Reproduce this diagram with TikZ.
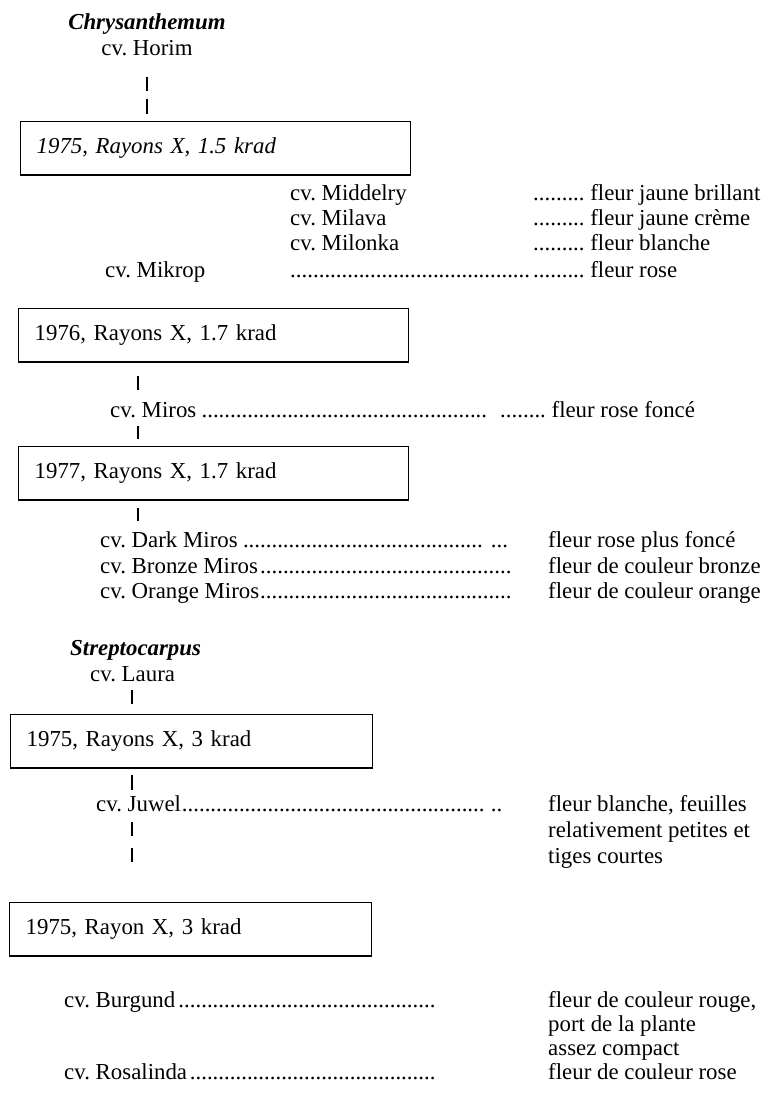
\documentclass[tikz,border=0pt]{standalone}
\usepackage{fontspec}
\setmainfont{Liberation Serif}
\frenchspacing
\def\dotleader{\leaders\hbox to 0.25em{\hss.\hss}\hfill}
\newcommand{\cvdots}[2]{\makebox[#1][l]{#2\dotleader}}

\begin{document}
\begin{tikzpicture}[x=0.03cm,y=-0.03cm,
  every node/.style={inner sep=0pt, anchor=base west, font=\fontsize{19.5}{23}\selectfont},
  genus/.style={anchor=base, font=\fontsize{19.5}{23}\selectfont\bfseries\itshape},
  dosebox/.style={draw, line width=1.2pt, anchor=north west, inner xsep=0.48cm, inner ysep=0pt, align=left, minimum height=1.6cm},
  tick/.style={line width=1.1pt}]
\useasboundingbox (0,0) rectangle (768,1103);

% Chrysanthemum
\node[genus] (chry) at (147,30) {Chrysanthemum};
\node[anchor=base] (horim) at (147,56) {cv. Horim};
\draw[tick] (147,77) -- (147,91);
\draw[tick] (147,99) -- (147,114);
\node[dosebox, text width=10.74cm] (box1) at (20,121) {\itshape 1975, Rayons X, 1.5 krad};

\node (middelry) at (290,201) {cv. Middelry};
\node (milava) at (290,226) {cv. Milava};
\node (milonka) at (290,251) {cv. Milonka};
\node (mikrop) at (105,277) {cv. Mikrop};
\node (mikropdots) at (290,277) {\cvdots{7.2cm}{}};
\node (cmiddelry) at (533,201) {......... fleur jaune brillant};
\node (cmilava) at (533,226) {......... fleur jaune crème};
\node (cmilonka) at (533,251) {......... fleur blanche};
\node (cmikrop) at (533,277) {......... fleur rose};

\node[dosebox, text width=10.74cm] (box2) at (18,308) {1976, Rayons X, 1.7 krad};
\draw[tick] (138,376) -- (138,390);
\node (miros) at (110,417) {\cvdots{11.4cm}{cv. Miros}};
\node (cmiros) at (500,417) {........ fleur rose foncé};
\draw[tick] (138,426) -- (138,439);

\node[dosebox, text width=10.74cm] (box3) at (18,446) {1977, Rayons X, 1.7 krad};
\draw[tick] (138,508) -- (138,521);
\node (darkmiros) at (100,547) {\cvdots{11.55cm}{cv. Dark Miros}\ ...};
\node (bronze) at (100,573) {\cvdots{12.36cm}{cv. Bronze Miros}};
\node (orange) at (100,598) {\cvdots{12.36cm}{cv. Orange Miros}};
\node (cdarkmiros) at (548,547) {fleur rose plus foncé};
\node (cbronze) at (548,573) {fleur de couleur bronze};
\node (corange) at (548,598) {fleur de couleur orange};

% Streptocarpus
\node[genus, anchor=base west] (strepto) at (70,655) {Streptocarpus};
\node (laura) at (90,681) {cv. Laura};
\draw[tick] (132,690) -- (132,704);
\node[dosebox, text width=9.9cm] (box4) at (10,714) {1975, Rayons X, 3 krad};
\draw[tick] (132,775) -- (132,790);
\node (juwel) at (96,811) {\cvdots{11.67cm}{cv. Juwel}\ ..};
\node (cjuwela) at (548,811) {fleur blanche, feuilles};
\node (cjuwelb) at (548,837) {relativement petites et};
\node (cjuwelc) at (548,863) {tiges courtes};
\draw[tick] (132,822) -- (132,836);
\draw[tick] (132,848) -- (132,862);

\node[dosebox, text width=9.9cm] (box5) at (9,902) {1975, Rayon X, 3 krad};
\node (burgund) at (64,1007) {\cvdots{11.22cm}{cv. Burgund}};
\node (rosalinda) at (64,1079) {\cvdots{11.28cm}{cv. Rosalinda}};
\node (cburgunda) at (548,1007) {fleur de couleur rouge,};
\node (cburgundb) at (548,1031) {port de la plante};
\node (cburgundc) at (548,1055) {assez compact};
\node (crosalinda) at (548,1079) {fleur de couleur rose};
\end{tikzpicture}
\end{document}
